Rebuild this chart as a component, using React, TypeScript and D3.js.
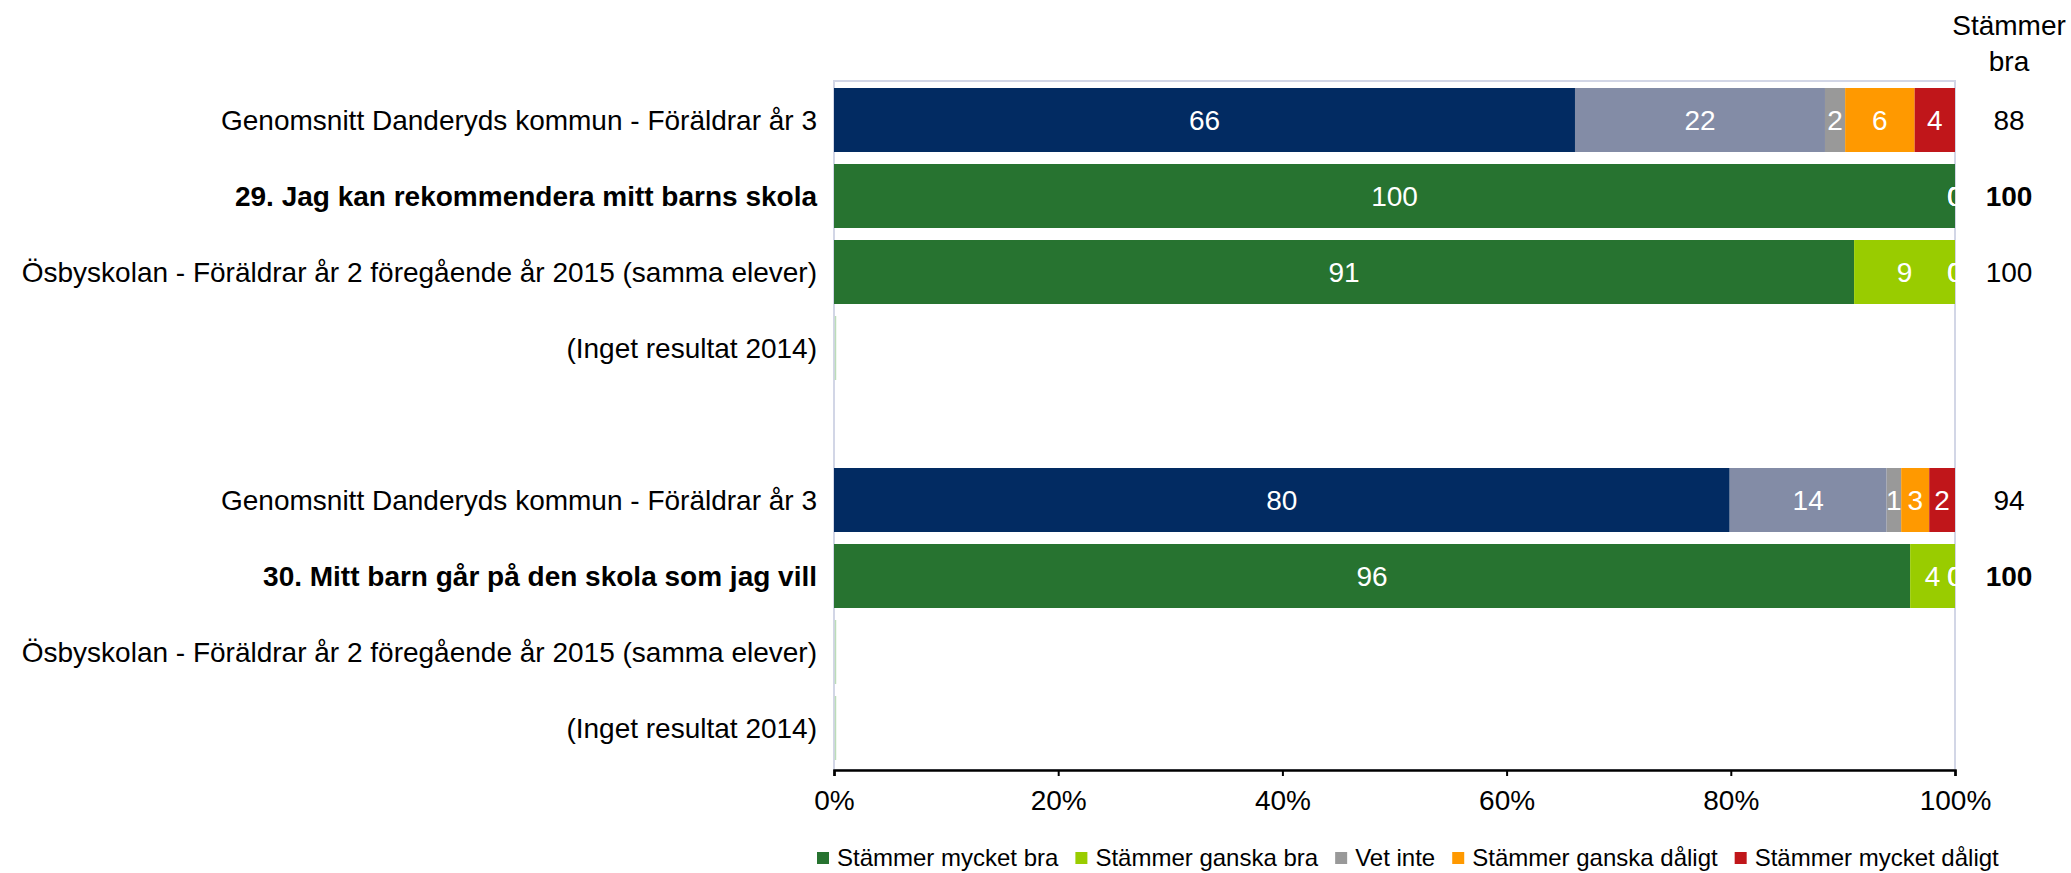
import React, { useEffect, useRef } from 'react'
import * as d3 from "d3";

////////////////////
//// Data

const rowIds = [ "avg29", "q29", "prev29", "none29", "gap", "avg30", "q30", "prev30", "none30" ];
const rowLabels = [
    "Genomsnitt Danderyds kommun - Föräldrar år 3",
    "29. Jag kan rekommendera mitt barns skola",
    "Ösbyskolan - Föräldrar år 2 föregående år 2015 (samma elever)",
    "(Inget resultat 2014)",
    "",
    "Genomsnitt Danderyds kommun - Föräldrar år 3",
    "30. Mitt barn går på den skola som jag vill",
    "Ösbyskolan - Föräldrar år 2 föregående år 2015 (samma elever)",
    "(Inget resultat 2014)",
];
const boldRows = [ "q29", "q30" ];
const averageRows = [ "avg29", "avg30" ];

const seriesNames = [ "Stämmer mycket bra", "Stämmer ganska bra", "Vet inte", "Stämmer ganska dåligt", "Stämmer mycket dåligt" ];
// null = no result for that row
const mycketBra = [ 66.1, 100, 91, null, null, 79.9, 96, null, null ];
const ganskaBra = [ 22.3, 0, 9, null, null, 14.0, 4, null, null ];
const vetInte = [ 1.8, 0, 0, null, null, 1.3, 0, null, null ];
const ganskaDaligt = [ 6.2, 0, 0, null, null, 2.5, 0, null, null ];
const mycketDaligt = [ 3.6, 0, 0, null, null, 2.3, 0, null, null ];

const xTicks = [ 0, 20, 40, 60, 80, 100 ];

const seriesColors = [ "#277330", "#99CC00", "#999999", "#FF9900", "#C0161A" ];
const averageColors = [ "#022B62", "#838CA6", "#999999", "#FF9900", "#C0161A" ];

export default function App() {
    const svgRef = useRef(null);
    const width = 2071;
    const height = 873;
    const margin = { top: 81, right: 116, bottom: 103, left: 834 };
    const font = "'Liberation Sans', Arial, sans-serif";

    useEffect(() => {
        const svg = d3.select(svgRef.current);
        svg.selectAll("*").remove();

        const seriesValues = [ mycketBra, ganskaBra, vetInte, ganskaDaligt, mycketDaligt ];
        const table = rowIds.map((id, i) => {
            const row = { id, label: rowLabels[ i ], hasData: mycketBra[ i ] !== null };
            seriesNames.forEach((s, k) => row[ s ] = seriesValues[ k ][ i ] ?? 0);
            return row;
        });

        const x = d3.scaleLinear().domain([ 0, 100 ]).range([ margin.left, width - margin.right ]);
        const y = d3.scaleBand().domain(rowIds).range([ 82, 766 ]).paddingInner(0.158).paddingOuter(0.079);

        svg.attr("font-family", font);

        // plot frame
        svg.append("rect")
            .attr("x", x(0))
            .attr("y", margin.top)
            .attr("width", x(100) - x(0))
            .attr("height", height - margin.bottom - margin.top)
            .attr("fill", "none")
            .attr("stroke", "#D2D6E6")
            .attr("stroke-width", 2);

        const stack = d3.stack().keys(seriesNames)(table);

        const layer = svg.append("g")
            .selectAll("g")
            .data(stack)
            .join("g");

        layer.selectAll("rect")
            .data((s, k) => s.map(d => ( { d, k } )).filter(e => e.d.data.hasData))
            .join("rect")
            .attr("x", e => x(e.d[ 0 ]))
            .attr("y", e => y(e.d.data.id))
            .attr("width", e => x(e.d[ 1 ]) - x(e.d[ 0 ]))
            .attr("height", y.bandwidth())
            .attr("fill", e => averageRows.includes(e.d.data.id) ? averageColors[ e.k ] : seriesColors[ e.k ]);

        layer.selectAll("text")
            .data((s, k) => s.map(d => ( { d, k } )).filter(e => e.d.data.hasData))
            .join("text")
            .attr("x", e => x((e.d[ 0 ] + e.d[ 1 ]) / 2))
            .attr("y", e => y(e.d.data.id) + y.bandwidth() / 2)
            .attr("dy", "0.36em")
            .attr("text-anchor", "middle")
            .attr("font-size", 28)
            .attr("fill", "#fff")
            .text(e => Math.round(e.d[ 1 ] - e.d[ 0 ]));

        // empty rows: hairline at zero
        svg.append("g")
            .selectAll("line")
            .data(table.filter(d => !d.hasData && d.id !== "gap"))
            .join("line")
            .attr("x1", x(0) + 1.5)
            .attr("x2", x(0) + 1.5)
            .attr("y1", d => y(d.id))
            .attr("y2", d => y(d.id) + y.bandwidth())
            .attr("stroke", "#BCDDB8")
            .attr("stroke-width", 1.5);

        // category labels
        svg.append("g")
            .selectAll("text")
            .data(table)
            .join("text")
            .attr("x", x(0) - 17)
            .attr("y", d => y(d.id) + y.bandwidth() / 2)
            .attr("dy", "0.36em")
            .attr("text-anchor", "end")
            .attr("font-size", 28)
            .attr("font-weight", d => boldRows.includes(d.id) ? "bold" : "normal")
            .attr("fill", "#000")
            .text(d => d.label);

        // "Stämmer bra" column
        const colX = x(100) + 54;
        svg.append("text")
            .attr("x", colX).attr("y", 35)
            .attr("text-anchor", "middle").attr("font-size", 28)
            .text("Stämmer");
        svg.append("text")
            .attr("x", colX).attr("y", 71)
            .attr("text-anchor", "middle").attr("font-size", 28)
            .text("bra");
        svg.append("g")
            .selectAll("text")
            .data(table.filter(d => d.hasData))
            .join("text")
            .attr("x", colX)
            .attr("y", d => y(d.id) + y.bandwidth() / 2)
            .attr("dy", "0.36em")
            .attr("text-anchor", "middle")
            .attr("font-size", 28)
            .attr("font-weight", d => boldRows.includes(d.id) ? "bold" : "normal")
            .text(d => Math.round(d[ seriesNames[ 0 ] ] + d[ seriesNames[ 1 ] ]));

        // x axis
        const axis = svg.append("g")
            .attr("transform", `translate(0,${ height - margin.bottom })`)
            .call(d3.axisBottom(x).tickValues(xTicks).tickSize(6).tickSizeOuter(6).tickFormat(d => d + "%"));
        axis.select(".domain").attr("stroke", "#000").attr("stroke-width", 2.5);
        axis.selectAll(".tick line").attr("stroke", "#000").attr("stroke-width", 2);
        axis.selectAll(".tick text")
            .attr("font-family", font)
            .attr("font-size", 28)
            .attr("fill", "#000")
            .attr("y", 20)
            .attr("dy", "0.71em");

        // legend
        const legend = svg.append("g").attr("transform", "translate(817,852)");
        let lx = 0;
        seriesNames.forEach((name, k) => {
            legend.append("rect")
                .attr("x", lx).attr("y", 0)
                .attr("width", 12).attr("height", 12)
                .attr("fill", seriesColors[ k ]);
            const t = legend.append("text")
                .attr("x", lx + 20).attr("y", 14)
                .attr("font-size", 24)
                .text(name);
            lx += 20 + t.node().getComputedTextLength() + 17;
        });
    }, []);

    return <svg ref={ svgRef } width={ width } height={ height }
                style={ { position: "absolute", left: 0, top: 0, background: "#fff" } }/>;
}
